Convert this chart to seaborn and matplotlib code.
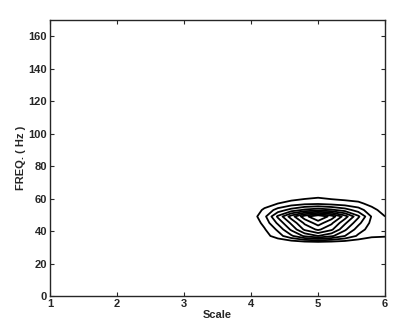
import numpy as np
import matplotlib
matplotlib.use("Agg")
import matplotlib.pyplot as plt
import seaborn as sns

# scale axis (columns) and frequency axis (rows) of the amplitude table
scales = [4.0, 4.2, 4.4, 4.6, 4.8, 5.0, 5.2, 5.4, 5.6, 5.8, 6.0]
freqs = [29, 33, 37, 41, 45, 49, 53, 57, 61, 65, 69]
amplitude = [
    [0.00, 0.00, 0.00, 0.00, 0.00, 0.00, 0.00, 0.00, 0.00, 0.00, 0.00],
    [0.00, 0.01, 0.02, 0.03, 0.05, 0.06, 0.05, 0.04, 0.03, 0.02, 0.02],
    [0.00, 0.06, 0.15, 0.28, 0.42, 0.50, 0.42, 0.30, 0.18, 0.12, 0.11],
    [0.00, 0.09, 0.22, 0.42, 0.62, 0.72, 0.62, 0.42, 0.25, 0.15, 0.13],
    [0.02, 0.13, 0.32, 0.52, 0.72, 0.85, 0.72, 0.52, 0.33, 0.17, 0.12],
    [0.04, 0.17, 0.42, 0.65, 0.86, 1.00, 0.86, 0.65, 0.42, 0.19, 0.10],
    [0.02, 0.12, 0.24, 0.34, 0.42, 0.46, 0.42, 0.35, 0.25, 0.13, 0.06],
    [0.00, 0.05, 0.10, 0.14, 0.17, 0.18, 0.16, 0.14, 0.12, 0.07, 0.02],
    [0.00, 0.00, 0.03, 0.05, 0.07, 0.09, 0.07, 0.06, 0.05, 0.02, 0.00],
    [0.00, 0.00, 0.00, 0.01, 0.01, 0.02, 0.01, 0.01, 0.00, 0.00, 0.00],
    [0.00, 0.00, 0.00, 0.00, 0.00, 0.00, 0.00, 0.00, 0.00, 0.00, 0.00],
]
levels = [0.1, 0.2, 0.3, 0.4, 0.5, 0.6, 0.7, 0.8, 0.9]
xticks = [1, 2, 3, 4, 5, 6]
yticks = [0, 20, 40, 60, 80, 100, 120, 140, 160]

sns.set_style("ticks")
plt.rcParams["font.family"] = ["Liberation Sans", "DejaVu Sans"]

fig = plt.figure(figsize=(3.93, 3.30), dpi=100)
ax = fig.add_axes([0.127, 0.103, 0.853, 0.836])

X, Y = np.meshgrid(scales, freqs)
ax.contour(X, Y, np.array(amplitude), levels=levels, colors="black", linewidths=1.3)

ax.set_xlim(1, 6)
ax.set_ylim(0, 170)
ax.set_xticks(xticks)
ax.set_yticks(yticks)
ax.tick_params(direction="in", length=3, width=0.8, labelsize=8,
               top=True, right=True, pad=2)
for lbl in ax.get_xticklabels() + ax.get_yticklabels():
    lbl.set_fontweight("bold")
for sp in ax.spines.values():
    sp.set_linewidth(1.0)
ax.set_xlabel("Scale", fontsize=8, fontweight="bold", labelpad=1)
ax.set_ylabel("FREQ. ( Hz )", fontsize=8, fontweight="bold", labelpad=2)

fig.savefig("out.png", dpi=100)
